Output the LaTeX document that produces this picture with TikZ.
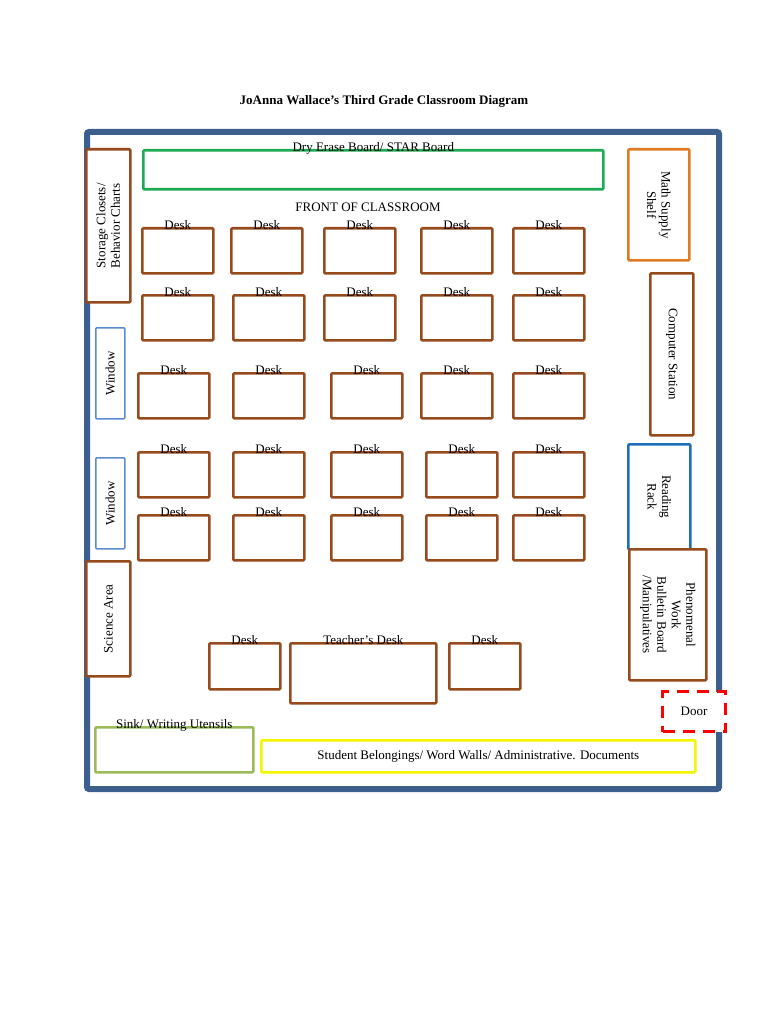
\documentclass[tikz,border=0pt]{standalone}
\usepackage{fontspec}
\setmainfont{Liberation Serif}
\begin{document}
\begin{tikzpicture}[x=1pt,y=-1pt,
  bx/.style={draw=#1,line width=2.6pt,fill=white,rounded corners=1pt},
  txt/.style={font=\fontsize{13}{14.5}\selectfont,align=center,inner sep=0pt}]
\definecolor{brn}{HTML}{974A1C}\definecolor{wall}{HTML}{3C5F8E}
\definecolor{grn}{HTML}{1DAA55}\definecolor{win}{HTML}{5B8BD0}
\definecolor{org}{HTML}{E07B22}\definecolor{rb}{HTML}{1E6FBA}
\definecolor{olv}{HTML}{9BBB59}\definecolor{yel}{HTML}{F5F500}
\useasboundingbox (0,0) rectangle (768,1024);
\newcommand\bx[7]{\node[bx=#6,minimum width=#4-#2,minimum height=#5-#3,anchor=north west] (#1) at (#2,#3) {};
  \node[txt,below] at ([yshift=7]#1.north) {#7};}
\newcommand\rbx[8]{\node[bx=#6,minimum width=#4-#2,minimum height=#5-#3,anchor=north west] (#1) at (#2,#3) {};
  \node[txt,rotate=#7] at (#1.center) {#8};}
\node[font=\bfseries\fontsize{13}{15}\selectfont] (title) at (384,101) {JoAnna Wallace's Third Grade Classroom Diagram};
\node[draw=wall,line width=6pt,rounded corners=2pt,minimum width=632,minimum height=657,anchor=north west] (room) at (84,129) {};
\bx{board}{142}{149}{602}{188}{grn}{Dry Erase Board/ STAR Board}
\node[txt] (front) at (368,207) {FRONT OF CLASSROOM};
% desks
\foreach \r/\y/\xs in {1/227/{141,230,323,420,512},2/294/{141,232,323,420,512},3/372/{137,232,330,420,512},4/451/{137,232,330,425,512},5/514/{137,232,330,425,512}}{
  \foreach \x [count=\c] in \xs {
    \node[bx=brn,minimum width=71,minimum height=45,anchor=north west] (d\r\c) at (\x,\y) {};
    \node[txt,below] at ([yshift=7]d\r\c.north) {Desk};}}
\bx{db1}{208}{642}{279}{688}{brn}{Desk}
\bx{tdesk}{289}{642}{435}{702}{brn}{Teacher's Desk}
\bx{db2}{448}{642}{519}{688}{brn}{Desk}
\rbx{stor}{85}{148}{129}{301}{brn}{90}{Storage Closets/\\Behavior Charts}
\node[bx=win,line width=1.6pt,minimum width=29,minimum height=91,anchor=north west] (w1) at (95,327) {};
\node[txt,rotate=90] at (w1.center) {Window};
\node[bx=win,line width=1.6pt,minimum width=29,minimum height=91,anchor=north west] (w2) at (95,457) {};
\node[txt,rotate=90] at (w2.center) {Window};
\rbx{sci}{85}{560}{129}{675}{brn}{90}{Science Area}
\rbx{math}{627}{148}{688}{259}{org}{-90}{Math Supply\\Shelf}
\rbx{comp}{649}{272}{692}{434}{brn}{-90}{Computer Station}
\rbx{read}{627}{443}{689}{548}{rb}{-90}{Reading\\Rack}
\rbx{phen}{628}{548}{705}{679}{brn}{-90}{Phenomenal\\Work\\Bulletin Board\\/Manipulatives}
\node[draw=red,dashed,dash pattern=on 12pt off 8pt,line width=3pt,minimum width=63,minimum height=40,anchor=north west,fill=white] (door) at (661,690) {};
\node[txt] at (door.center) {Door};
\bx{sink}{94}{726}{252}{771}{olv}{Sink/ Writing Utensils}
\node[bx=yel,minimum width=434,minimum height=32,anchor=north west] (bel) at (260,739) {};
\node[txt] at (bel.center) {Student Belongings/ Word Walls/ Administrative. Documents};
\end{tikzpicture}
\end{document}
